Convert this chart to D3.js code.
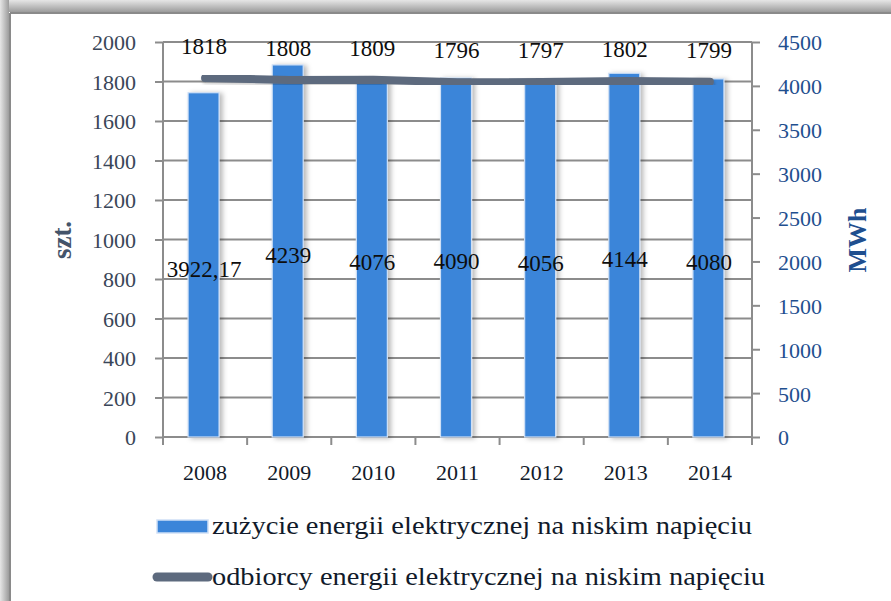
<!DOCTYPE html>
<html>
<head>
<meta charset="utf-8">
<script src="https://cdn.jsdelivr.net/npm/d3@7"></script>
<style>
  html, body { margin: 0; padding: 0; background: #fff; }
  svg { display: block; }
  text { font-family: "Liberation Serif", "DejaVu Serif", serif; }
</style>
</head>
<body>
<svg id="chart" width="891" height="601"></svg>
<script>
// Low-voltage electricity: consumption (MWh, bars) and number of customers (szt., line)
const years = ["2008", "2009", "2010", "2011", "2012", "2013", "2014"];
const energyMWh = [3922.17, 4239, 4076, 4090, 4056, 4144, 4080];
const energyLabels = ["3922,17", "4239", "4076", "4090", "4056", "4144", "4080"];
const customers = [1818, 1808, 1809, 1796, 1797, 1802, 1799];
const leftTicks = [0, 200, 400, 600, 800, 1000, 1200, 1400, 1600, 1800, 2000];
const rightTicks = [0, 500, 1000, 1500, 2000, 2500, 3000, 3500, 4000, 4500];
const legendNames = [
  "zużycie energii elektrycznej na niskim napięciu",
  "odbiorcy energii elektrycznej na niskim napięciu"
];

const svg = d3.select("#chart");
const W = 891, H = 601;
const plot = { left: 163, right: 752, top: 42, bottom: 437 };

const barColor = "#3b85d9";
const lineColor = "#5d6a7e";
const gridColor = "#8c8c8c";
const fmt = d3.format("d");

const defs = svg.append("defs");
const gTop = defs.append("linearGradient").attr("id", "frameTop")
  .attr("x1", 0).attr("y1", 0).attr("x2", 0).attr("y2", 1);
gTop.append("stop").attr("offset", 0).attr("stop-color", "#e6e6e6");
gTop.append("stop").attr("offset", 1).attr("stop-color", "#9c9c9c");
const gLeft = defs.append("linearGradient").attr("id", "frameLeft")
  .attr("x1", 0).attr("y1", 0).attr("x2", 1).attr("y2", 0);
gLeft.append("stop").attr("offset", 0).attr("stop-color", "#e6e6e6");
gLeft.append("stop").attr("offset", 1).attr("stop-color", "#9c9c9c");

const shadow = defs.append("filter").attr("id", "barShadow")
  .attr("x", "-30%").attr("y", "-5%").attr("width", "160%").attr("height", "110%");
shadow.append("feDropShadow").attr("dx", 3).attr("dy", 1).attr("stdDeviation", 2.5)
  .attr("flood-color", "#000").attr("flood-opacity", 0.28);

const lineShadow = defs.append("filter").attr("id", "lineShadow")
  .attr("x", "-5%").attr("y", "-50%").attr("width", "110%").attr("height", "200%");
lineShadow.append("feDropShadow").attr("dx", 1).attr("dy", 2).attr("stdDeviation", 1.5)
  .attr("flood-color", "#000").attr("flood-opacity", 0.2);

// page frame with soft shading on top and left
svg.append("rect").attr("x", 0).attr("y", 0).attr("width", W).attr("height", 12).attr("fill", "url(#frameTop)");
svg.append("rect").attr("x", 0).attr("y", 0).attr("width", 9).attr("height", H).attr("fill", "url(#frameLeft)");
svg.append("line").attr("x1", 10).attr("x2", W).attr("y1", 13).attr("y2", 13)
  .attr("stroke", "#8a8a8a").attr("stroke-width", 2);
svg.append("line").attr("x1", 10).attr("x2", 10).attr("y1", 13).attr("y2", H)
  .attr("stroke", "#8a8a8a").attr("stroke-width", 2);

// scales
const x = d3.scaleBand().domain(years).range([plot.left, plot.right]).paddingInner(0).paddingOuter(0);
const yL = d3.scaleLinear().domain([0, 2000]).range([plot.bottom, plot.top]);
const yR = d3.scaleLinear().domain([0, 4500]).range([plot.bottom, plot.top]);
const barW = 31;

// horizontal gridlines on the left scale
svg.append("g").selectAll("line").data(leftTicks.filter(d => d > 0)).join("line")
  .attr("x1", plot.left).attr("x2", plot.right)
  .attr("y1", d => yL(d)).attr("y2", d => yL(d))
  .attr("stroke", gridColor).attr("stroke-width", 2);

// left axis
const axL = svg.append("g").attr("transform", `translate(${plot.left},0)`)
  .call(d3.axisLeft(yL).tickValues(leftTicks).tickFormat(fmt).tickSize(8).tickPadding(19));
axL.select(".domain").attr("stroke", gridColor).attr("stroke-width", 2).attr("d", `M0,${plot.top}V${plot.bottom}`);
axL.selectAll(".tick line").attr("stroke", gridColor).attr("stroke-width", 2);
axL.selectAll(".tick text").attr("font-size", 22).attr("fill", "#3a4658")
  .attr("font-family", "Liberation Serif, serif").attr("dy", "0.36em");

// right axis
const axR = svg.append("g").attr("transform", `translate(${plot.right},0)`)
  .call(d3.axisRight(yR).tickValues(rightTicks).tickFormat(fmt).tickSize(8).tickPadding(18));
axR.select(".domain").attr("stroke", gridColor).attr("stroke-width", 2).attr("d", `M0,${plot.top}V${plot.bottom}`);
axR.selectAll(".tick line").attr("stroke", gridColor).attr("stroke-width", 2);
axR.selectAll(".tick text").attr("font-size", 22).attr("fill", "#1f4f8f")
  .attr("font-family", "Liberation Serif, serif").attr("dy", "0.36em");

// bottom axis with ticks at category boundaries
const axB = svg.append("g").attr("transform", `translate(0,${plot.bottom})`);
axB.append("line").attr("x1", plot.left).attr("x2", plot.right).attr("y1", 0).attr("y2", 0)
  .attr("stroke", gridColor).attr("stroke-width", 2);
const bounds = years.map(d => x(d)).concat([plot.right]);
axB.selectAll("line.tk").data(bounds).join("line").attr("class", "tk")
  .attr("x1", d => d).attr("x2", d => d).attr("y1", 0).attr("y2", 8)
  .attr("stroke", gridColor).attr("stroke-width", 2);
axB.selectAll("text").data(years).join("text")
  .attr("x", d => x(d) + x.bandwidth() / 2).attr("y", 43)
  .attr("text-anchor", "middle").attr("font-size", 22).attr("fill", "#111a2a")
  .text(d => d);

// bars (right scale)
const bars = years.map((y, i) => ({ year: y, v: energyMWh[i], label: energyLabels[i] }));
svg.append("g").selectAll("rect").data(bars).join("rect")
  .attr("x", d => x(d.year) + x.bandwidth() / 2 - barW / 2 - 1.5)
  .attr("y", d => yR(d.v))
  .attr("width", barW)
  .attr("height", d => yR(0) - yR(d.v))
  .attr("fill", barColor)
  .attr("stroke", "#cfe0f6").attr("stroke-width", 1.2)
  .attr("filter", "url(#barShadow)");

// customers line (left scale)
const pts = years.map((y, i) => ({ year: y, v: customers[i] }));
const line = d3.line().x(d => x(d.year) + x.bandwidth() / 2).y(d => yL(d.v));
svg.append("path").datum(pts).attr("d", line)
  .attr("fill", "none").attr("stroke", lineColor).attr("stroke-width", 8)
  .attr("stroke-linecap", "round").attr("stroke-linejoin", "round")
  .attr("filter", "url(#lineShadow)");

// value labels for bars
svg.append("g").selectAll("text").data(bars).join("text")
  .attr("x", d => x(d.year) + x.bandwidth() / 2 - 1)
  .attr("y", d => (yR(0) + yR(d.v)) / 2 + 12)
  .attr("text-anchor", "middle").attr("font-size", 23).attr("fill", "#0d0d0d")
  .text(d => d.label);

// value labels for the line
svg.append("g").selectAll("text").data(pts).join("text")
  .attr("x", d => x(d.year) + x.bandwidth() / 2 - 1)
  .attr("y", d => yL(d.v) - 24)
  .attr("text-anchor", "middle").attr("font-size", 23).attr("fill", "#0d0d0d")
  .text(d => d.v);

// axis titles
svg.append("text").attr("transform", "translate(71,240) rotate(-90)")
  .attr("text-anchor", "middle").attr("font-size", 27).attr("font-weight", "bold")
  .attr("fill", "#44546a").text("szt.");
svg.append("text").attr("transform", "translate(866,240) rotate(-90)")
  .attr("text-anchor", "middle").attr("font-size", 26).attr("font-weight", "bold")
  .attr("fill", "#1f4f8f").text("MWh");

// legend
const lg = svg.append("g");
lg.append("rect").attr("x", 157).attr("y", 520).attr("width", 51).attr("height", 13)
  .attr("fill", barColor).attr("stroke", "#cfe0f6").attr("stroke-width", 1.5);
lg.append("line").attr("x1", 157).attr("x2", 208).attr("y1", 577).attr("y2", 577)
  .attr("stroke", lineColor).attr("stroke-width", 9).attr("stroke-linecap", "round");
lg.selectAll("text").data(legendNames).join("text")
  .attr("x", 212).attr("y", (d, i) => 534 + i * 51)
  .attr("font-size", 25).attr("fill", "#111a2a")
  .attr("textLength", (d, i) => i === 0 ? 540 : 553)
  .attr("lengthAdjust", "spacingAndGlyphs")
  .text(d => d);
</script>
</body>
</html>
